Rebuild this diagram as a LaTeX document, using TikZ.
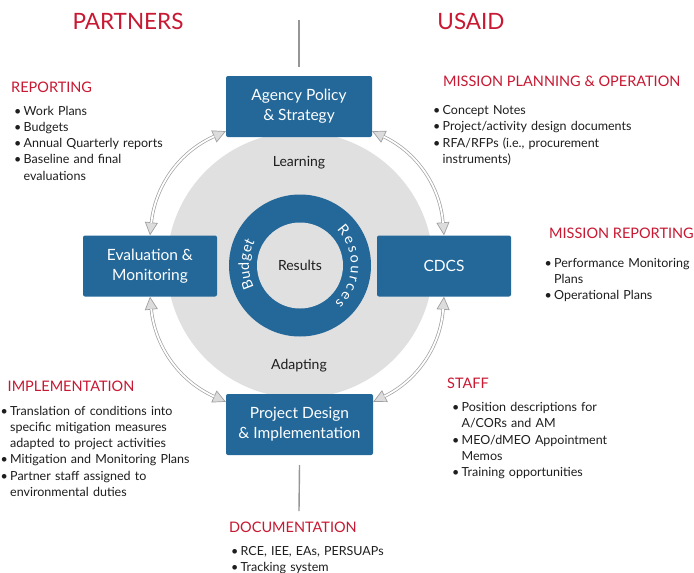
\documentclass[tikz,border=0pt]{standalone}
\usepackage{fontspec}
\setmainfont{Lato}
\usetikzlibrary{arrows.meta,decorations.text,calc}
\definecolor{boxblue}{RGB}{35,104,153}
\definecolor{ringgray}{RGB}{224,224,224}
\definecolor{titlered}{RGB}{200,24,50}
\definecolor{txt}{RGB}{30,30,30}
\definecolor{arrgray}{RGB}{160,160,160}
\definecolor{tipfill}{RGB}{220,220,220}
\definecolor{linegray}{RGB}{150,150,150}
\newcommand\li[1]{\noindent\hangindent=9.5pt\hangafter=1\makebox[9.5pt][l]{•}#1\par}
\begin{document}
\begin{tikzpicture}[x=1pt,y=1pt,
  title/.style={text=titlered, font=\fontsize{14.5}{17}\selectfont, inner sep=0, anchor=base west},
  bigtitle/.style={text=titlered, font=\fontsize{22.5}{26}\selectfont, inner sep=0},
  listnode/.style={text=txt, font=\fontsize{12.5}{16.3}\selectfont, inner sep=0, anchor=base west, text width=200pt, align=left},
  bluebox/.style={fill=boxblue, rounded corners=2pt, text=white, font=\fontsize{15.5}{20}\selectfont, align=center, minimum height=61pt, inner sep=0},
  cyctip/.style={draw=arrgray, line width=0.7pt,
    {Triangle[length=13pt,width=13pt,fill=tipfill]}-{Triangle[length=13pt,width=13pt,fill=tipfill]}},
  cyc/.style={draw=arrgray, line width=0.7pt, double=white, double distance=1.8pt, shorten <=12.5pt, shorten >=12.5pt},
  vline/.style={draw=linegray, line width=1.4pt},
  midtext/.style={text=txt, font=\fontsize{14}{16}\selectfont, inner sep=0},
  ringtext/.style={decorate, decoration={text along path, text color=white, text align=fit to path, text={|\fontsize{14.5}{16}\selectfont|#1}}}
]
\useasboundingbox (0,0) rectangle (694,-573);
\fill[white] (0,0) rectangle (694,-573);

% central discs
\node[circle, fill=ringgray, minimum size=266pt, inner sep=0] (bg) at (300,-265) {};
\node[circle, fill=boxblue, minimum size=142pt, inner sep=0] (ring) at (300,-265.5) {};
\node[circle, fill=ringgray, minimum size=86pt, inner sep=0, text=txt, font=\fontsize{14}{16}\selectfont] (res) at (300,-265.5) {Results};
\path[ringtext={Resources}] ($(ring.center)+(44:51)$) arc[start angle=44, end angle=-47, radius=51];
\path[ringtext={Budget}] ($(ring.center)+(206:51)$) arc[start angle=206, end angle=152, radius=51];

\node[midtext] (learn) at (299,-163) {Learning};
\node[midtext] (adapt) at (299,-366) {Adapting};

% boxes
\node[bluebox, minimum width=146pt] (ag) at (299,-106.5) {Agency Policy\\ \& Strategy};
\node[bluebox, minimum width=134pt] (cd) at (444,-266) {CDCS};
\node[bluebox, minimum width=134pt] (ev) at (150,-266) {Evaluation \&\\ Monitoring};
\node[bluebox, minimum width=147pt] (pd) at (299.5,-424.5) {Project Design\\ \& Implementation};

% cycle arrows
\coordinate (a1) at ([yshift=6pt]ag.south east);
\coordinate (a2) at ([yshift=-8pt]pd.north east);
\coordinate (a3) at ([yshift=-8pt]pd.north west);
\coordinate (a4) at ([yshift=6pt]ag.south west);
\foreach \s/\e in {a1/cd.north, cd.south/a2, a3/ev.south, ev.north/a4}{
  \draw[cyctip] (\s) to[bend left=30] (\e);
  \draw[cyc] (\s) to[bend left=30] (\e);
}

% vertical lines
\coordinate (ltop) at (299,-20);
\coordinate (lbot) at (299,-511);
\draw[vline] (ltop) -- ([yshift=9pt]ag.north);
\draw[vline] ([yshift=-10pt]pd.south) -- (lbot);

% headers
\node[bigtitle] (partners) at (128,-21) {PARTNERS};
\node[bigtitle] (usaid) at (471,-21) {USAID};

% reporting
\node[title] (t1) at (11,-92) {REPORTING};
\node[listnode] (l1) at (14,-115) {\li{Work Plans}\li{Budgets}\li{Annual Quarterly reports}\li{Baseline and final\newline evaluations}};

% mission planning
\node[title] (t2) at (443,-86) {MISSION PLANNING \& OPERATION};
\node[listnode] (l2) at (433,-114.5) {\li{Concept Notes}\li{Project/activity design documents}\li{RFA/RFPs (i.e., procurement\newline instruments)}};

% mission reporting
\node[title] (t3) at (549,-238) {MISSION REPORTING};
\node[listnode] (l3) at (544.5,-267) {\li{Performance Monitoring\newline Plans}\li{Operational Plans}};

% implementation
\node[title] (t4) at (7.5,-391) {IMPLEMENTATION};
\node[listnode] (l4) at (0.5,-415) {\li{Translation of conditions into\newline specific mitigation measures\newline adapted to project activities}\li{Mitigation and Monitoring Plans}\li{Partner staff assigned to\newline environmental duties}};

% staff
\node[title] (t5) at (447,-388) {STAFF};
\node[listnode] (l5) at (452,-411.5) {\li{Position descriptions for\newline A/CORs and AM}\li{MEO/dMEO Appointment\newline Memos}\li{Training opportunities}};

% documentation
\node[title] (t6) at (229,-532.5) {DOCUMENTATION};
\node[listnode] (l6) at (231,-555) {\li{RCE, IEE, EAs, PERSUAPs}\li{Tracking system}};
\end{tikzpicture}
\end{document}
